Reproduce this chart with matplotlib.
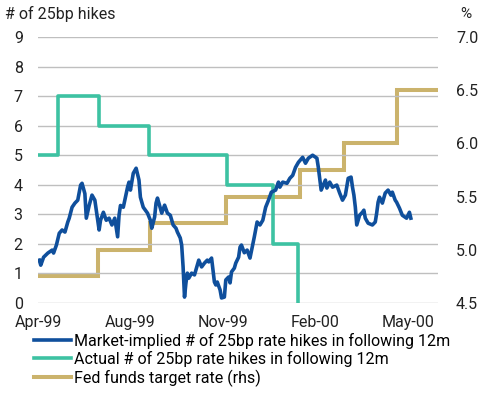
import matplotlib
matplotlib.use('Agg')
import matplotlib.pyplot as plt

plt.rcParams['font.family'] = ['Roboto', 'DejaVu Sans']

# ---- Data (x = trading-day index from start of Apr-99) ----
tick_pos = [0, 65, 130, 195, 260]
tick_labels = ['Apr-99', 'Aug-99', 'Nov-99', 'Feb-00', 'May-00']

mkt_x = [1, 2, 4, 7, 10, 11, 13, 15, 17, 19, 21, 22, 24, 26, 28, 30, 31, 33, 34, 36,
         38, 40, 41, 43, 44, 46, 48, 50, 52, 54, 56, 57, 58, 60, 63, 64, 65, 67, 69, 71,
         72, 74, 77, 79, 80, 82, 83, 84, 86, 87, 89, 91, 93, 95, 97, 98, 100, 101, 102, 103,
         104, 105, 106, 108, 110, 112, 113, 115, 117, 119, 120, 122, 123, 124, 125, 126, 128, 129, 131, 132,
         134, 135, 136, 138, 139, 141, 142, 143, 145, 147, 149, 152, 154, 156, 158, 160, 162, 164, 167, 169,
         170, 172, 175, 177, 179, 181, 183, 186, 188, 190, 193, 196, 197, 199, 202, 203, 205, 207, 210, 212,
         214, 216, 218, 220, 221, 222, 223, 224, 226, 228, 229, 230, 232, 235, 237, 238, 239, 240, 242, 244,
         246, 248, 249, 251, 252, 254, 256, 259, 260, 261, 262]
mkt_y = [1.45, 1.28, 1.55, 1.69, 1.79, 1.69, 1.96, 2.36, 2.47, 2.40, 2.74, 2.87, 3.24, 3.38, 3.48, 3.99, 4.05, 3.70, 2.87, 3.30,
         3.65, 3.48, 3.14, 2.47, 2.80, 3.07, 2.80, 2.87, 2.64, 2.87, 2.24, 2.97, 3.30, 3.24, 3.92, 4.09, 3.82, 4.39, 4.56, 4.16,
         3.58, 3.24, 3.04, 2.80, 2.53, 2.91, 3.38, 3.55, 3.21, 3.04, 3.31, 3.04, 2.97, 2.64, 2.53, 2.40, 2.20, 1.96, 1.22, 0.20,
         0.68, 1.01, 0.84, 1.01, 0.95, 1.28, 1.45, 1.22, 1.35, 1.45, 1.39, 1.52, 1.11, 0.71, 0.61, 0.71, 0.44, 0.17, 0.20, 0.78,
         0.88, 0.68, 1.05, 1.18, 1.35, 1.55, 1.89, 1.96, 1.70, 1.79, 1.52, 2.23, 2.74, 2.64, 2.80, 3.24, 3.48, 3.75, 3.82, 4.09,
         3.92, 4.09, 4.05, 4.22, 4.32, 4.59, 4.76, 4.93, 4.73, 4.90, 5.00, 4.90, 4.59, 3.82, 4.16, 3.89, 4.09, 3.92, 3.99, 3.72,
         3.48, 3.65, 4.22, 4.26, 3.92, 3.65, 3.24, 2.64, 2.97, 3.07, 3.14, 2.87, 2.70, 2.64, 2.74, 3.04, 3.41, 3.58, 3.38, 3.72,
         3.82, 3.65, 3.75, 3.48, 3.41, 3.21, 2.97, 2.87, 2.97, 3.07, 2.87]

actual_x = [0, 14, 43, 78, 133, 165, 183]
actual_y = [5, 7, 6, 5, 4, 2, 0]

fed_x = [0, 42, 79, 132, 184, 215, 252, 281]
fed_y = [4.75, 5.00, 5.25, 5.50, 5.75, 6.00, 6.50, 6.50]

C_MKT = '#0F4F9C'
C_ACT = '#3DC2A2'
C_FED = '#CBB36C'

fig = plt.figure(figsize=(4.86, 3.94), dpi=100)
ax = fig.add_axes([0.078, 0.231, 0.823, 0.675])
ax2 = ax.twinx()

ax2.plot(fed_x, fed_y, drawstyle='steps-post', color=C_FED, lw=2.9,
         solid_joinstyle='miter', label='Fed funds target rate (rhs)', zorder=2)
l_act, = ax.plot(actual_x, actual_y, drawstyle='steps-post', color=C_ACT, lw=2.6,
                 label='Actual # of 25bp rate hikes in following 12m', zorder=3)
l_mkt, = ax.plot(mkt_x, mkt_y, color=C_MKT, lw=2.6, solid_joinstyle='round',
                 label='Market-implied # of 25bp rate hikes in following 12m', zorder=4)

# put left axis (with blue/green) over the right one
ax.set_zorder(ax2.get_zorder() + 1)
ax.patch.set_visible(False)

ax.set_xlim(0, 281)
ax.set_ylim(0, 9)
ax2.set_ylim(4.5, 7.0)
ax.set_yticks(range(0, 10))
ax2.set_yticks([4.5, 5.0, 5.5, 6.0, 6.5, 7.0])
ax2.set_yticklabels(['4.5', '5.0', '5.5', '6.0', '6.5', '7.0'])
ax.set_xticks(tick_pos)
ax.set_xticklabels(tick_labels)

ax.grid(axis='y', color='#BFBFBF', lw=1.0)
ax.set_axisbelow(True)
for a in (ax, ax2):
    for s in a.spines.values():
        s.set_visible(False)
ax.tick_params(axis='both', length=0, labelsize=11.5, colors='#222222')
ax.tick_params(axis='y', pad=11)
ax.tick_params(axis='x', pad=9)
ax2.tick_params(axis='y', length=0, labelsize=11.5, colors='#222222', pad=13)

fig.text(0.01, 0.965, '# of 25bp hikes', fontsize=11.5, color='#222222', va='center', ha='left')
fig.text(0.948, 0.965, '%', fontsize=11, color='#222222', va='center', ha='left')

fed_handle = plt.Line2D([], [], color=C_FED, lw=2.9, label='Fed funds target rate (rhs)')
fig.legend(handles=[l_mkt, l_act, fed_handle], loc='upper left',
           bbox_to_anchor=(0.07, 0.156), frameon=False, fontsize=11.5,
           handlelength=2.3, handletextpad=0.2, labelspacing=0.15,
           borderpad=0, borderaxespad=0)

fig.savefig('out.png', dpi=100)
